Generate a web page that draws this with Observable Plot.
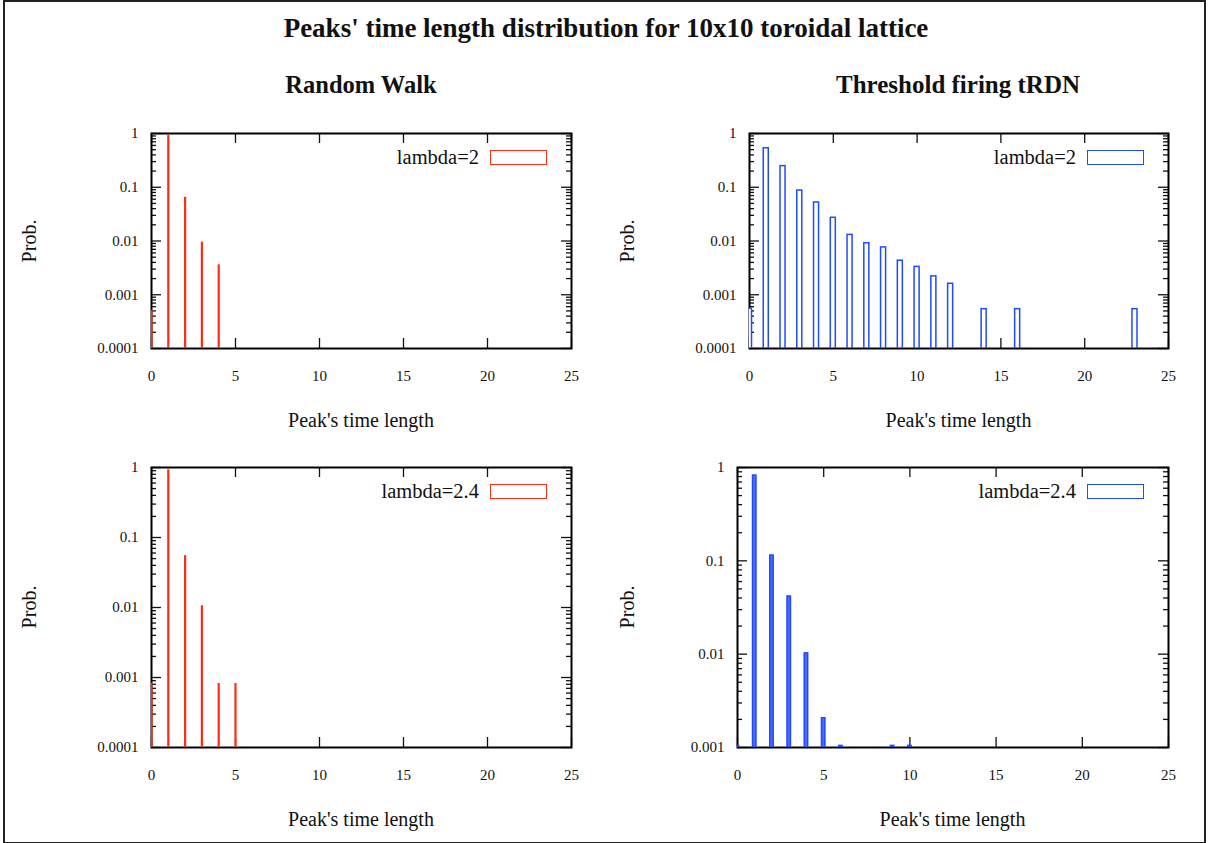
<!DOCTYPE html>
<html>
<head>
<meta charset="utf-8">
<script src="https://cdn.jsdelivr.net/npm/d3@7"></script>
<script src="https://cdn.jsdelivr.net/npm/@observablehq/plot@0.6"></script>
<style>
  html, body { margin: 0; padding: 0; background: #fff; }
  #root { position: relative; width: 1208px; height: 843px; background: #fff; overflow: hidden;
          font-family: "Liberation Serif", "DejaVu Serif", serif; color: #111; }
  .abs { position: absolute; white-space: nowrap; }
  .c { transform: translate(-50%, -50%); }
  .rot { transform: translate(-50%, -50%) rotate(-90deg); }
  .panel { position: absolute; }
</style>
</head>
<body>
<div id="root"></div>
<script>
// ---------------- data ----------------
const xTickValues = [0, 5, 10, 15, 20, 25];
const yTicksFour = [0.0001, 0.001, 0.01, 0.1, 1];
const yTicksThree = [0.001, 0.01, 0.1, 1];

// Random Walk, lambda=2
const rwLen2 = [0, 1, 2, 3, 4];
const rwProb2 = [0.00051, 0.93, 0.065, 0.0095, 0.0036];
// Threshold firing tRDN, lambda=2
const trLen2 = [0, 1, 2, 3, 4, 5, 6, 7, 8, 9, 10, 11, 12, 14, 16, 23];
const trProb2 = [0.00055, 0.53, 0.247, 0.087, 0.052, 0.027, 0.013, 0.0091, 0.0076, 0.0043, 0.0033, 0.0022, 0.0016, 0.00054, 0.00054, 0.00054];
// Random Walk, lambda=2.4
const rwLen24 = [0, 1, 2, 3, 4, 5];
const rwProb24 = [0.00083, 0.93, 0.055, 0.0106, 0.00082, 0.00082];
// Threshold firing tRDN, lambda=2.4
const trLen24 = [0, 1, 2, 3, 4, 5, 6, 9, 10];
const trProb24 = [0.00104, 0.82, 0.114, 0.0415, 0.0102, 0.00206, 0.00104, 0.00104, 0.00104];

const titleText = "Peaks' time length distribution for 10x10 toroidal lattice";
const colTitles = ["Random Walk", "Threshold firing tRDN"];
const xLabel = "Peak's time length";
const yLabel = "Prob.";

// ---------------- layout ----------------
const RED = "#ff2e12";
const BLUE = "#1f4bff";
const root = document.getElementById("root");

function addText(txt, x, y, cls, style) {
  const d = document.createElement("div");
  d.className = "abs " + cls;
  d.textContent = txt;
  d.style.left = x + "px";
  d.style.top = y + "px";
  Object.assign(d.style, style || {});
  root.appendChild(d);
  return d;
}

// outer border
const border = document.createElement("div");
border.className = "abs";
Object.assign(border.style, {left: "3px", top: "0px", width: "1199px", height: "840px", border: "2px solid #222"});
root.appendChild(border);

addText(titleText, 606, 28, "c", {fontWeight: "bold", fontSize: "27px"});
addText(colTitles[0], 361, 85, "c", {fontWeight: "bold", fontSize: "24.5px"});
addText(colTitles[1], 958, 85, "c", {fontWeight: "bold", fontSize: "25px"});

const panels = [
  {l: 151, r: 571, t: 133, b: 348, ymin: 1e-4, yt: yTicksFour, xs: rwLen2, ps: rwProb2, kind: "impulse", color: RED, legend: "lambda=2", yl: 29},
  {l: 749, r: 1168, t: 133, b: 348, ymin: 1e-4, yt: yTicksFour, xs: trLen2, ps: trProb2, kind: "box", color: BLUE, legend: "lambda=2", hw: 0.15, yl: 627},
  {l: 151, r: 571, t: 467, b: 747, ymin: 1e-4, yt: yTicksFour, xs: rwLen24, ps: rwProb24, kind: "impulse", color: RED, legend: "lambda=2.4", yl: 29},
  {l: 737, r: 1168, t: 467, b: 747, ymin: 1e-3, yt: yTicksThree, xs: trLen24, ps: trProb24, kind: "solidbox", color: BLUE, legend: "lambda=2.4", hw: 0.1, yl: 627}
];

for (const p of panels) {
  const ymax = 1;
  const mL = 100, mR = 20, mT = 20, mB = 50;
  const width = (p.r - p.l) + mL + mR;
  const height = (p.b - p.t) + mT + mB;
  const pxPerX = (p.r - p.l) / 25;
  const pxPerDec = (p.b - p.t) / Math.log10(ymax / p.ymin);
  const majX = 10 / pxPerX, minX = 5 / pxPerX;
  const fx = Math.pow(10, 10 / pxPerDec);
  const minors = [];
  for (let k = Math.round(Math.log10(p.ymin)); k < 0; k++) {
    for (let m = 2; m <= 9; m++) minors.push(m * Math.pow(10, k));
  }
  const idx = d3.range(p.xs.length);
  const tickStyle = {stroke: "#111", strokeWidth: 1.3};
  let bars;
  if (p.kind === "impulse") {
    bars = Plot.ruleX(idx, {x: i => p.xs[i], y1: p.ymin, y2: i => p.ps[i], stroke: p.color, strokeWidth: 2.2, clip: true});
  } else {
    bars = Plot.rect(idx, {x1: i => p.xs[i] - p.hw, x2: i => p.xs[i] + p.hw, y1: p.ymin, y2: i => p.ps[i],
      fill: p.kind === "solidbox" ? "#4d6dff" : "white", stroke: p.color, strokeWidth: 1.5, clip: true});
  }
  const chart = Plot.plot({
    width, height,
    marginLeft: mL, marginRight: mR, marginTop: mT, marginBottom: mB,
    style: {fontFamily: "Liberation Serif, serif", fontSize: "15px", color: "#111", background: "transparent", overflow: "visible"},
    x: {domain: [0, 25], ticks: xTickValues, tickSize: 0, tickPadding: 22, tickFormat: d => String(d), label: null},
    y: {type: "log", domain: [p.ymin, ymax], ticks: p.yt, tickSize: 0, tickPadding: 13, tickFormat: d => String(d), label: null},
    marks: [
      Plot.ruleY(p.yt, {y: d => d, x1: 0, x2: majX, ...tickStyle}),
      Plot.ruleY(p.yt, {y: d => d, x1: 25 - majX, x2: 25, ...tickStyle}),
      Plot.ruleY(minors, {y: d => d, x1: 0, x2: minX, ...tickStyle}),
      Plot.ruleY(minors, {y: d => d, x1: 25 - minX, x2: 25, ...tickStyle}),
      Plot.ruleX(xTickValues, {x: d => d, y1: p.ymin, y2: p.ymin * fx, ...tickStyle}),
      Plot.ruleX(xTickValues, {x: d => d, y1: ymax / fx, y2: ymax, ...tickStyle}),
      Plot.frame({stroke: "#000", strokeWidth: 2}),
      bars
    ]
  });
  chart.classList.add("panel");
  chart.style.left = (p.l - mL) + "px";
  chart.style.top = (p.t - mT) + "px";
  root.appendChild(chart);

  // axis labels
  addText(yLabel, p.yl, (p.t + p.b) / 2, "rot", {fontSize: "20px"});
  addText(xLabel, (p.l + p.r) / 2, p.b + 72, "c", {fontSize: "20px"});

  // legend
  const lt = addText(p.legend, 0, 0, "", {fontSize: "20.5px", lineHeight: "20px"});
  lt.style.left = "auto";
  lt.style.right = (1208 - (p.r - 92)) + "px";
  lt.style.top = (p.t + 14) + "px";
  const box = document.createElement("div");
  box.className = "abs";
  Object.assign(box.style, {left: (p.r - 81) + "px", top: (p.t + 17) + "px", width: "55px", height: "13px",
    border: "1.5px solid " + p.color, background: "#fff"});
  root.appendChild(box);
}
</script>
</body>
</html>
